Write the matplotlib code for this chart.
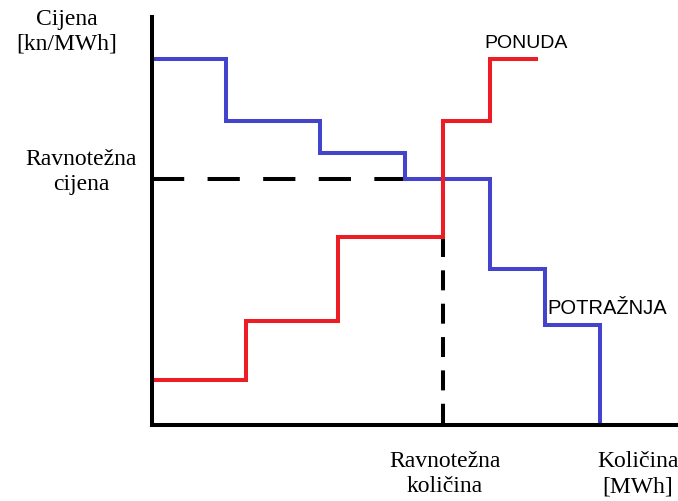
import matplotlib
matplotlib.use('Agg')
import matplotlib.pyplot as plt

# demand (potraznja) step curve: quantity break points and price levels
demand_q = [0, 7.45, 16.85, 25.35, 33.85, 39.35, 44.85]
demand_p = [36.6, 30.4, 27.15, 24.6, 15.6, 9.95, 0]

# supply (ponuda) step curve
supply_q = [0, 9.45, 18.6, 29.15, 33.85, 38.65]
supply_p = [4.45, 10.35, 18.75, 30.35, 36.55, 36.55]

# equilibrium point
eq_q = 29.15
eq_p = 24.6
eq_dash_end = 25.35  # where the dashed price line meets the demand curve

blue = '#4343CC'
red = '#EE1C25'
lw = 2.9
serif = 'Liberation Serif'
sans = 'Liberation Sans'

fig = plt.figure(figsize=(6.78, 5.02), dpi=100)
ax = fig.add_axes([151.5 / 678, 76.5 / 502, 524.5 / 678, 407.5 / 502])
ax.set_xlim(0, 52.45)
ax.set_ylim(0, 40.75)

ax.plot([0, eq_dash_end], [eq_p, eq_p], color='black', lw=lw,
        dashes=(8, 5.8), dash_capstyle='butt', zorder=1)
ax.plot([eq_q, eq_q], [supply_p[2], 0], color='black', lw=lw,
        dashes=(4.96, 3.32), dash_capstyle='butt', zorder=1)

ax.step(demand_q, demand_p, where='post', color=blue, lw=lw,
        solid_joinstyle='miter', solid_capstyle='butt', zorder=2, clip_on=False)
ax.step(supply_q, supply_p, where='post', color=red, lw=lw,
        solid_joinstyle='miter', solid_capstyle='butt', zorder=3, clip_on=False)

for s in ['top', 'right']:
    ax.spines[s].set_visible(False)
for s in ['left', 'bottom']:
    ax.spines[s].set_linewidth(lw)
    ax.spines[s].set_capstyle('projecting')
    ax.spines[s].set_zorder(5)
ax.set_xticks([])
ax.set_yticks([])
ax.patch.set_alpha(0)

fig.text(67 / 678, 1 - 32 / 502, 'Cijena\n[kn/MWh]', ha='center', va='center',
         family=serif, size=17, linespacing=1.25)
fig.text(81 / 678, 1 - 172 / 502, 'Ravnotežna\ncijena', ha='center', va='center',
         family=serif, size=17, linespacing=1.25)
fig.text(445 / 678, 1 - 474 / 502, 'Ravnotežna\nkoličina', ha='center', va='center',
         family=serif, size=17, linespacing=1.3)
fig.text(638 / 678, 1 - 474 / 502, 'Količina\n[MWh]', ha='center', va='center',
         family=serif, size=17, linespacing=1.3)
fig.text(526 / 678, 1 - 43 / 502, 'PONUDA', ha='center', va='center',
         family=sans, size=14)
fig.text(607 / 678, 1 - 308 / 502, 'POTRAŽNJA', ha='center', va='center',
         family=sans, size=14.5)

fig.savefig('out.png', dpi=100)
